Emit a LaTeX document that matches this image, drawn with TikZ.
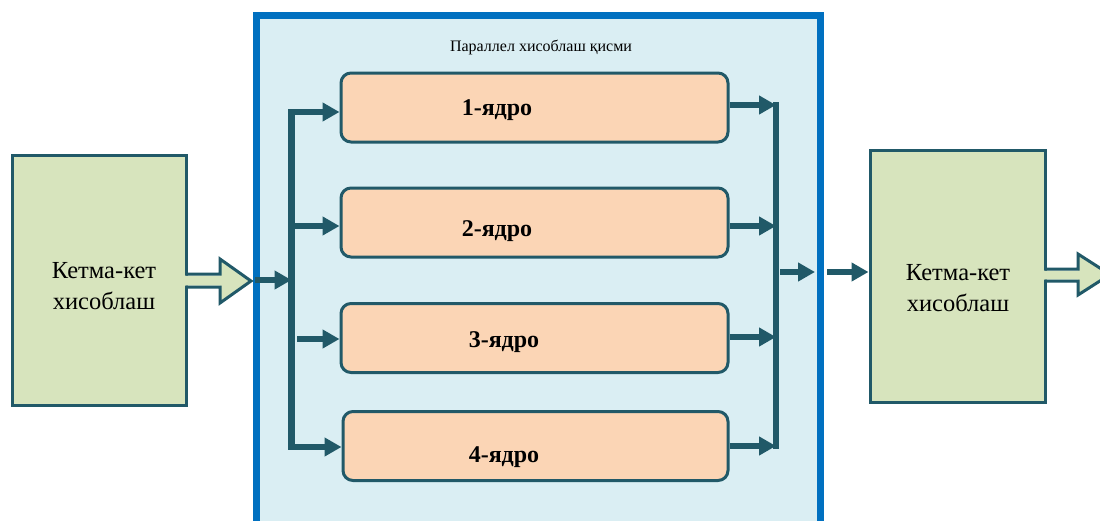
\documentclass[tikz,border=0pt]{standalone}
\usepackage{fontspec}
\setmainfont{Liberation Serif}
\usetikzlibrary{arrows.meta}
\definecolor{dteal}{HTML}{215968}
\definecolor{cblue}{HTML}{0070C0}
\definecolor{lblue}{HTML}{DAEEF3}
\definecolor{cgreen}{HTML}{D7E4BD}
\definecolor{corefill}{HTML}{FBD5B5}
\tikzset{
  container/.style={draw=cblue, line width=7pt, fill=lblue, minimum width=564pt, minimum height=520pt, inner sep=0pt},
  seqbox/.style={draw=dteal, line width=3pt, fill=cgreen, minimum width=174pt, minimum height=250pt, inner sep=0pt},
  corebox/.style={draw=dteal, line width=3pt, fill=corefill, rounded corners=10pt, minimum width=387pt, minimum height=69pt, inner sep=0pt},
  corelabel/.style={font=\fontsize{24}{28}\selectfont\bfseries, inner sep=0pt},
  seqlabel/.style={font=\fontsize{24.5}{31}\selectfont, align=center, inner sep=0pt},
  arr/.style={draw=dteal, line width=5.5pt, -{Triangle[length=17pt,width=18pt]}},
  bus/.style={draw=dteal, line width=6.5pt},
  blockline/.style={draw=dteal, line width=3pt, line join=miter},
}
\begin{document}
\begin{tikzpicture}[x=1pt,y=-1pt]
\useasboundingbox (0,0) rectangle (1100,520);
\clip (0,0) rectangle (1100,520);
% container
\node[container] (par) at (538,275) {};
\node[font=\fontsize{16}{18}\selectfont, inner sep=0pt] (title) at (541,47) {Параллел хисоблаш қисми};
% sequential boxes
\node[seqbox] (seqL) at (99,280) {};
\node[seqlabel] (seqLt) at (104,286) {Кетма-кет\\хисоблаш};
\node[seqbox, minimum width=175pt, minimum height=252pt] (seqR) at (957.5,276) {};
\node[seqlabel] (seqRt) at (958,288) {Кетма-кет\\хисоблаш};
% block arrows
\fill[cgreen] (182,275.5) -- (220,275.5) -- (220,260.5) -- (249,281) -- (220,301.5) -- (220,285.5) -- (182,285.5) -- cycle;
\draw[blockline] (186,274) -- (220,274) -- (220,259) -- (251,281) -- (220,303) -- (220,287) -- (186,287);
\fill[cgreen] (1041,270.5) -- (1078,270.5) -- (1078,255.5) -- (1108,274.5) -- (1078,293.5) -- (1078,279.5) -- (1041,279.5) -- cycle;
\draw[blockline] (1045,269) -- (1078,269) -- (1078,254) -- (1110,274.5) -- (1078,295) -- (1078,281) -- (1045,281);
% cores
\node[corebox] (c1) at (534.5,107.5) {};
\node[corebox] (c2) at (534.5,222.5) {};
\node[corebox] (c3) at (534.5,338) {};
\node[corebox, minimum width=385pt] (c4) at (535.5,446) {};
\node[corelabel] (t1) at (497,110) {1-ядро};
\node[corelabel] (t2) at (497,231) {2-ядро};
\node[corelabel] (t3) at (504,342) {3-ядро};
\node[corelabel] (t4) at (504,457) {4-ядро};
% left bus
\coordinate (lbTop) at (291.5,109);
\coordinate (lbBot) at (291.5,450);
\draw[bus] (lbTop) -- (lbBot);
\coordinate (inL) at (255,280);
\draw[arr] (inL) -- (inL -| lbTop);
\coordinate (l1) at (291.5,112);
\coordinate (l2) at (291.5,226);
\coordinate (l3) at (297,339);
\coordinate (l4) at (291.5,447);
\draw[arr] (l1) -- (l1 -| c1.west);
\draw[arr] (l2) -- (l2 -| c2.west);
\draw[arr] (l3) -- (l3 -| c3.west);
\draw[arr] (l4) -- (l4 -| c4.west);
% right bus
\coordinate (rbTop) at (776,102);
\coordinate (rbBot) at (776,449);
\draw[bus] (rbTop) -- (rbBot);
\coordinate (r1) at (776,105);
\coordinate (r2) at (776,226);
\coordinate (r3) at (776,337);
\coordinate (r4) at (776,446);
\draw[arr] (r1 -| c1.east) -- (r1);
\draw[arr] (r2 -| c2.east) -- (r2);
\draw[arr] (r3 -| c3.east) -- (r3);
\draw[arr] (r4 -| c4.east) -- (r4);
\coordinate (o1) at (780,272);
\coordinate (o2) at (815,272);
\coordinate (o3) at (827,272);
\draw[arr] (o1) -- (o2);
\draw[arr] (o3) -- (o3 -| seqR.west);
\end{tikzpicture}
\end{document}
